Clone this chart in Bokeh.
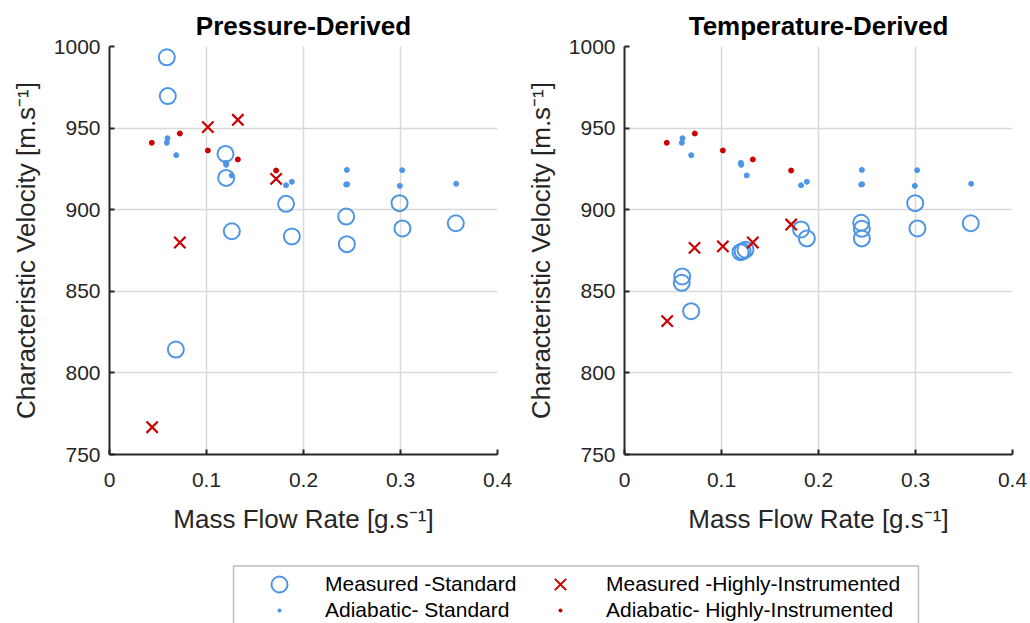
from bokeh.plotting import figure
from bokeh.models import Range1d, FixedTicker, Legend, LegendItem, BoxAnnotation
from bokeh.layouts import column, row
from bokeh.embed import file_html
from bokeh.resources import INLINE

# ---------------- data ----------------
# Adiabatic (same in both panels)
adi_std_x = [0.0598, 0.0591, 0.0688, 0.1200, 0.1203, 0.1260, 0.1820, 0.1880,
             0.2447, 0.2440, 0.2450, 0.3017, 0.2993, 0.3574]
adi_std_y = [943.8, 941.0, 933.4, 928.7, 927.5, 921.0, 915.0, 917.1,
             924.4, 915.4, 915.6, 924.2, 914.6, 915.9]
adi_hi_x = [0.0436, 0.0725, 0.1014, 0.1323, 0.1718]
adi_hi_y = [941.0, 946.7, 936.3, 930.8, 924.0]

# Pressure-derived measurements
p_std_x = [0.0591, 0.0601, 0.1196, 0.1203, 0.1261, 0.1820, 0.1880, 0.2440,
           0.2447, 0.2990, 0.3020, 0.3570, 0.0684]
p_std_y = [993.4, 969.6, 934.2, 919.5, 886.8, 903.6, 883.6, 895.8,
           878.9, 904.0, 888.5, 891.7, 814.3]
p_hi_x = [0.0440, 0.0725, 0.1014, 0.1323, 0.1718]
p_hi_y = [766.7, 879.9, 950.6, 955.1, 918.9]

# Temperature-derived measurements
t_std_x = [0.0595, 0.0590, 0.0687, 0.1196, 0.1218, 0.1247, 0.1820, 0.1880,
           0.2440, 0.2447, 0.2447, 0.2997, 0.3020, 0.3570]
t_std_y = [859.1, 855.2, 837.8, 874.0, 874.5, 875.5, 887.9, 882.4,
           892.0, 888.3, 882.4, 904.0, 888.5, 891.7]
t_hi_x = [0.0440, 0.0722, 0.1014, 0.1323, 0.1718]
t_hi_y = [831.7, 876.6, 877.5, 879.9, 890.9]

x_ticks = [0, 0.1, 0.2, 0.3, 0.4]
x_tick_labels = ["0", "0.1", "0.2", "0.3", "0.4"]
y_ticks = [750, 800, 850, 900, 950, 1000]
y_tick_labels = ["750", "800", "850", "900", "950", "1000"]

titles = ["Pressure-Derived", "Temperature-Derived"]
x_label = "Mass Flow Rate [g.s\u207b\u00b9]"
y_label = "Characteristic Velocity [m.s\u207b\u00b9]"
legend_labels = ["Measured -Standard", "Measured -Highly-Instrumented",
                 "Adiabatic- Standard", "Adiabatic- Highly-Instrumented"]

BLUE = "#4f95e6"
RED = "#cc0000"
AX = "#262626"
FONT = "Liberation Sans"


def make_panel(title, sx, sy, hx, hy):
    p = figure(width=515, height=550, output_backend="svg", toolbar_location=None,
               x_range=Range1d(0, 0.4), y_range=Range1d(750, 1000),
               min_border_left=109, min_border_right=18, min_border_top=46,
               min_border_bottom=96, title=title)
    p.title.text_font = FONT
    p.title.text_font_size = "26px"
    p.title.text_font_style = "bold"
    p.title.text_color = "#000000"
    p.title.align = "center"
    p.title.standoff = 11
    p.outline_line_color = None

    p.xaxis.ticker = FixedTicker(ticks=x_ticks)
    p.yaxis.ticker = FixedTicker(ticks=y_ticks)
    p.xaxis.major_label_overrides = dict(zip(x_ticks, x_tick_labels))
    p.yaxis.major_label_overrides = dict(zip(y_ticks, y_tick_labels))
    for ax in (p.xaxis, p.yaxis):
        ax.axis_line_color = AX
        ax.axis_line_width = 2
        ax.major_tick_line_color = AX
        ax.major_tick_line_width = 2
        ax.major_tick_in = 5
        ax.major_tick_out = 0
        ax.minor_tick_line_color = None
        ax.major_label_text_font = FONT
        ax.major_label_text_font_size = "21px"
        ax.major_label_text_color = AX
        ax.axis_label_text_font = FONT
        ax.axis_label_text_font_size = "26px"
        ax.axis_label_text_font_style = "normal"
        ax.axis_label_text_color = AX
    p.xaxis.axis_label = x_label
    p.yaxis.axis_label = y_label
    p.xaxis.major_label_standoff = 18
    p.yaxis.major_label_standoff = 9
    p.xaxis.axis_label_standoff = 14
    p.yaxis.axis_label_standoff = 10

    p.grid.grid_line_color = "#d9d9d9"
    p.grid.grid_line_width = 1.5
    p.xgrid.ticker = FixedTicker(ticks=x_ticks)
    p.ygrid.ticker = FixedTicker(ticks=y_ticks)

    p.scatter(sx, sy, marker="circle", size=16, fill_color=None,
              line_color=BLUE, line_width=2)
    p.scatter(hx, hy, marker="x", size=16, line_color=RED, line_width=2.2)
    p.scatter(adi_std_x, adi_std_y, marker="circle", size=5,
              fill_color=BLUE, line_color=BLUE)
    p.scatter(adi_hi_x, adi_hi_y, marker="circle", size=5,
              fill_color=RED, line_color=RED)
    return p


p1 = make_panel(titles[0], p_std_x, p_std_y, p_hi_x, p_hi_y)
p2 = make_panel(titles[1], t_std_x, t_std_y, t_hi_x, t_hi_y)

# Legend strip: its renderers reuse the series, but the strip's ranges keep
# every point out of view, so only the legend glyphs are drawn.
leg = figure(width=1030, height=73, output_backend="svg", toolbar_location=None,
             x_range=Range1d(0, 1), y_range=Range1d(0, 1), min_border=0,
             x_axis_location=None, y_axis_location=None)
leg.grid.visible = False
leg.outline_line_color = None
r_ms = leg.scatter(p_std_x, p_std_y, marker="circle", fill_color=None,
                   line_color=BLUE, line_width=2)
r_mh = leg.scatter(p_hi_x, p_hi_y, marker="x", line_color=RED, line_width=2)
r_as = leg.scatter(adi_std_x, adi_std_y, marker="dot", line_color=BLUE, fill_color=BLUE)
r_ah = leg.scatter(adi_hi_x, adi_hi_y, marker="dot", line_color=RED, fill_color=RED)

# legend frame (its lower edge runs off the page, as in the original)
frame_box = BoxAnnotation(left=233, right=918, top=57.5, bottom=-10,
                          left_units="screen", right_units="screen",
                          top_units="screen", bottom_units="screen",
                          fill_color="white", fill_alpha=1,
                          line_color="#262626", line_width=1.5)
leg.add_layout(frame_box)

common = dict(margin=0, padding=0, spacing=0, glyph_width=92, glyph_height=40,
              label_height=40, label_width=10, label_standoff=0,
              label_text_font=FONT, label_text_font_size="21px",
              label_text_color="#000000", border_line_color=None,
              background_fill_alpha=0)

for lab, rend, loc in [(legend_labels[0], r_ms, (233, 19)),
                       (legend_labels[2], r_as, (233, -7)),
                       (legend_labels[1], r_mh, (514, 19)),
                       (legend_labels[3], r_ah, (514, -7))]:
    leg.add_layout(Legend(items=[LegendItem(label=lab, renderers=[rend])],
                          location=loc, **common), "center")

layout = column(row(p1, p2), leg)
open("out.html", "w").write(file_html(layout, INLINE))
